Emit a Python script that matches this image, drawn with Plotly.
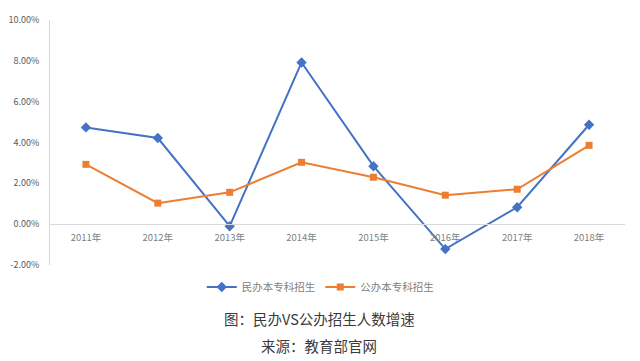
import plotly.graph_objects as go

years = ["2011年", "2012年", "2013年", "2014年", "2015年", "2016年", "2017年", "2018年"]
minban = [4.74, 4.22, -0.10, 7.92, 2.84, -1.22, 0.83, 4.87]
gongban = [2.93, 1.03, 1.56, 3.03, 2.30, 1.42, 1.71, 3.86]
ytick_vals = [-2, 0, 2, 4, 6, 8, 10]
ytick_text = ["-2.00%", "0.00%", "2.00%", "4.00%", "6.00%", "8.00%", "10.00%"]

FONT = "Noto Sans CJK SC, Noto Sans, sans-serif"

fig = go.Figure()
fig.add_trace(go.Scatter(
    x=years, y=minban, name="民办本专科招生", mode="lines+markers",
    line=dict(color="#4472C4", width=2),
    marker=dict(symbol="diamond", size=8, color="#4472C4"),
))
fig.add_trace(go.Scatter(
    x=years, y=gongban, name="公办本专科招生", mode="lines+markers",
    line=dict(color="#ED7D31", width=2),
    marker=dict(symbol="square", size=7, color="#ED7D31"),
))

fig.update_layout(
    width=632, height=353,
    margin=dict(l=42, r=15, t=12, b=96),
    paper_bgcolor="white", plot_bgcolor="white",
    font=dict(family=FONT, size=9, color="#595959"),
    showlegend=True,
    legend=dict(orientation="h", x=0.47, xanchor="center", y=-0.09, yanchor="middle",
                font=dict(size=10.5, color="#7f7f7f"), itemwidth=30),
    xaxis=dict(
        type="category", range=[-0.5, 7.5], anchor="free", position=2 / 12,
        showline=True, linecolor="#d9d9d9", linewidth=1, automargin=False,
        showgrid=False, ticks="", zeroline=False, ticklabelstandoff=4,
        tickfont=dict(size=9.5, color="#7f7f7f"),
    ),
    yaxis=dict(
        range=[-2, 10], tickvals=ytick_vals, ticktext=ytick_text,
        showline=True, linecolor="#d9d9d9", linewidth=1, automargin=False,
        showgrid=False, zeroline=False, ticks="", ticklabelstandoff=8,
        tickfont=dict(size=9, color="#595959"),
    ),
    annotations=[
        dict(text="图：民办VS公办招生人数增速", xref="paper", yref="paper",
             x=0.468, y=-0.22, xanchor="center", yanchor="middle", showarrow=False,
             font=dict(size=14.5, color="#3a3a3a", family=FONT)),
        dict(text="来源：教育部官网", xref="paper", yref="paper",
             x=0.468, y=-0.327, xanchor="center", yanchor="middle", showarrow=False,
             font=dict(size=14.5, color="#3a3a3a", family=FONT)),
    ],
)

fig.write_html("out.html")
